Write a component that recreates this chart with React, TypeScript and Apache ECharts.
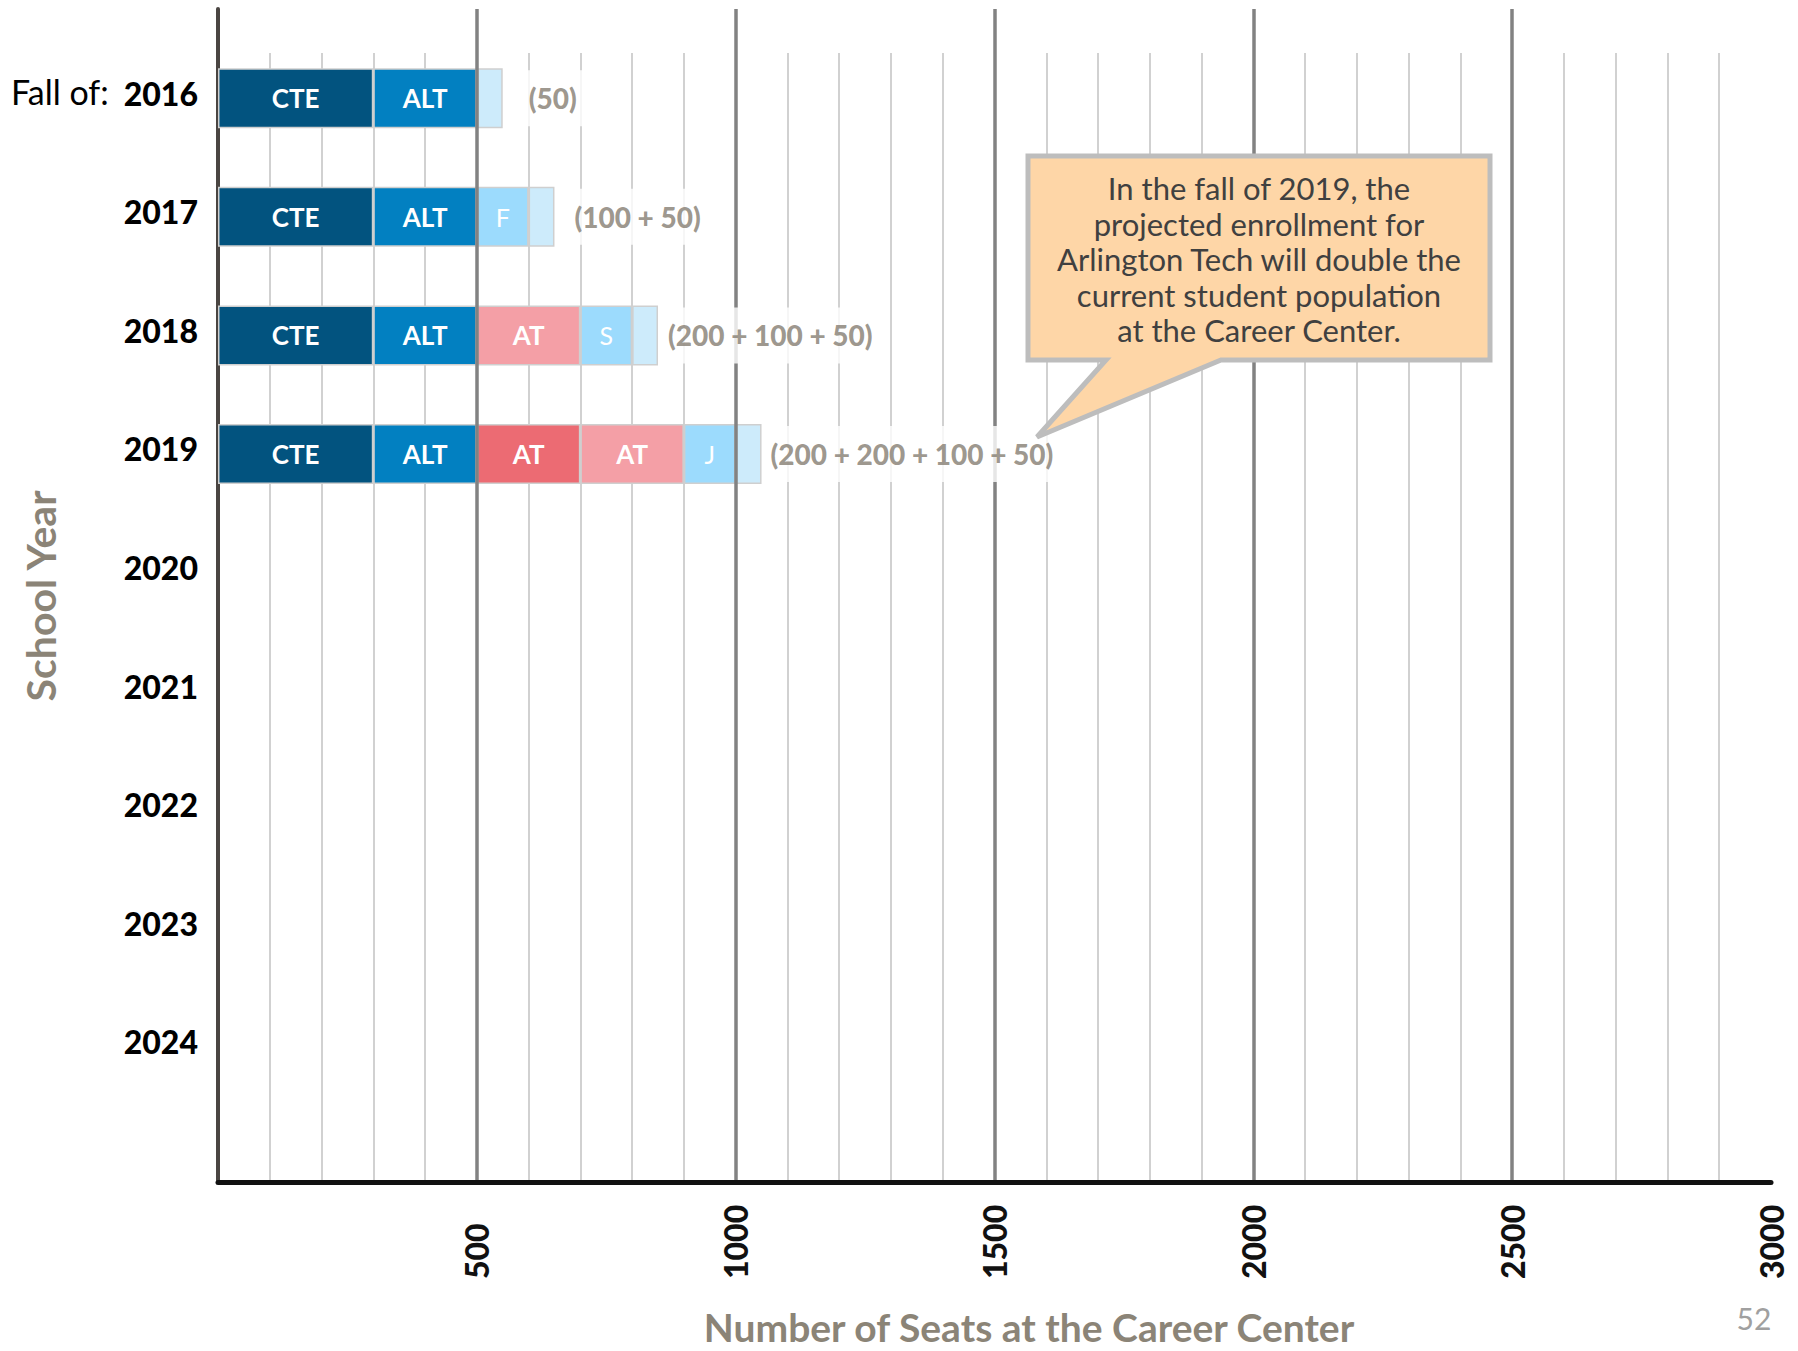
import React, { useEffect, useRef } from "react";
import * as echarts from "echarts";

const years = ["2016", "2017", "2018", "2019", "2020", "2021", "2022", "2023", "2024"];
const cteSeats = [300, 300, 300, 300];
const altSeats = [200, 200, 200, 200];
const atNewSeats = [null, null, null, 200];
const atSeats = [null, null, 200, 200];
const classSeats = [null, 100, 100, 100];
const classLabels = ["", "F", "S", "J"];
const extraSeats = [50, 50, 50, 50];
const totalLabels = ["(50)", "(100 + 50)", "(200 + 100 + 50)", "(200 + 200 + 100 + 50)"];
const xTicks = [500, 1000, 1500, 2000, 2500, 3000];
const calloutLines = [
  "In the fall of 2019, the",
  "projected enrollment for",
  "Arlington Tech will double the",
  "current student population",
  "at the Career Center.",
];
const xTitle = "Number of Seats at the Career Center";
const yTitle = "School Year";
const pageNumber = "52";

const labelGaps = [18, 12, 2, 1];

const FONT = "Lato";
const GRAYTXT = "#847c70";

export default function App() {
  const ref = useRef<HTMLDivElement>(null);
  useEffect(() => {
    if (!ref.current) return;
    const chart = echarts.init(ref.current, null, { renderer: "svg" });
    const totals = cteSeats.map(
      (_, i) =>
        (cteSeats[i] || 0) + (altSeats[i] || 0) + (atNewSeats[i] || 0) + (atSeats[i] || 0) + (classSeats[i] || 0) + (extraSeats[i] || 0)
    );
    const border = { borderColor: "#cfcfcf", borderWidth: 1.5 };
    const segLabel = (txt: any, bold = true, size = 26) => ({
      show: true,
      position: "inside",
      color: "#fff",
      fontFamily: FONT,
      fontWeight: bold ? "bold" : "normal",
      fontSize: size,
      formatter: txt,
    });
    const barBase = {
      type: "bar",
      stack: "seats",
      xAxisIndex: 0,
      yAxisIndex: 0,
      barWidth: 60,
      z: 2,
    };
    const option: any = {
      animation: false,
      backgroundColor: "#ffffff",
      grid: [
        { left: 218, right: 27, top: 39, bottom: 245 },
        { left: 218, right: 27, top: 9, bottom: 169 },
        { left: 218, right: 27, top: 53, bottom: 169 },
      ],
      xAxis: [
        { type: "value", gridIndex: 0, min: 0, max: 3000, show: false },
        {
          type: "value",
          gridIndex: 1,
          min: 0,
          max: 3000,
          interval: 500,
          z: 3,
          axisLine: { show: true, lineStyle: { color: "#111", width: 5 } },
          axisTick: { show: false },
          splitLine: { show: true, showMinLine: false, showMaxLine: false, lineStyle: { color: "#828282", width: 3.5 } },
          axisLabel: {
            show: true,
            rotate: 90,
            align: "left",
            margin: 97,
            showMinLabel: false,
            color: "#111",
            fontFamily: FONT,
            fontWeight: 900,
            fontSize: 32,
            formatter: (v: number) => (xTicks.indexOf(v) >= 0 ? String(v) : ""),
          },
        },
        {
          type: "value",
          gridIndex: 2,
          min: 0,
          max: 3000,
          interval: 100,
          z: 0,
          axisLine: { show: false },
          axisTick: { show: false },
          axisLabel: { show: false },
          splitLine: { show: true, showMinLine: false, showMaxLine: false, lineStyle: { color: "#c6c6c6", width: 1.6 } },
        },
      ],
      yAxis: [
        {
          type: "category",
          gridIndex: 0,
          data: years,
          inverse: true,
          axisLine: { show: false },
          axisTick: { show: false },
          axisLabel: {
            margin: 20,
            color: "#000",
            fontFamily: FONT,
            fontWeight: 900,
            fontSize: 32,
            lineHeight: 10,
            verticalAlign: "bottom",
          },
        },
        {
          type: "value",
          gridIndex: 1,
          min: 0,
          max: 1,
          axisLine: { show: true, lineStyle: { color: "#4a4542", width: 4 } },
          axisTick: { show: false },
          axisLabel: { show: false },
          splitLine: { show: false },
        },
        { type: "value", gridIndex: 2, min: 0, max: 1, show: false },
      ],
      series: [
        { ...barBase, name: "CTE", data: cteSeats, itemStyle: { color: "#02537f", ...border }, label: segLabel("CTE") },
        { ...barBase, name: "ALT", data: altSeats, itemStyle: { color: "#0280c1", ...border }, label: segLabel("ALT") },
        { ...barBase, name: "AT new", data: atNewSeats, itemStyle: { color: "#ec6b73", ...border }, label: segLabel("AT") },
        { ...barBase, name: "AT", data: atSeats, itemStyle: { color: "#f49fa6", ...border }, label: segLabel("AT") },
        {
          ...barBase,
          name: "Class",
          data: classSeats,
          itemStyle: { color: "#9cdbfd", ...border },
          label: segLabel((p: any) => classLabels[p.dataIndex] || "", false, 25),
        },
        { ...barBase, name: "Extra", data: extraSeats, itemStyle: { color: "#cdebfb", ...border } },
        {
          type: "scatter",
          xAxisIndex: 0,
          yAxisIndex: 0,
          symbolSize: 0,
          z: 5,
          data: totals.map((t, i) => ({
            value: [t, years[i]],
            label: { distance: labelGaps[i] },
          })),
          label: {
            show: true,
            position: "right",
            formatter: (p: any) => totalLabels[p.dataIndex],
            color: GRAYTXT,
            fontFamily: FONT,
            fontWeight: 900,
            fontSize: 28,
            backgroundColor: "#ffffff",
            padding: [14, 14, 14, 8],
          },
        },
      ],
      graphic: [
        {
          type: "text",
          left: 11,
          top: 74,
          z: 10,
          style: { text: "Fall of:", fill: "#000", font: `normal 34px ${FONT}` },
        },
        {
          type: "polygon",
          z: 20,
          shape: {
            points: [
              [1028, 156],
              [1490, 156],
              [1490, 360],
              [1221, 360],
              [1037, 437],
              [1106, 360],
              [1028, 360],
            ],
          },
          style: { fill: "#fed6a7", stroke: "#bdbdbd", lineWidth: 5 },
        },
        {
          type: "text",
          z: 21,
          x: 1259,
          y: 259,
          style: {
            text: calloutLines.join("\n"),
            fill: "#404040",
            font: `normal 31px ${FONT}`,
            lineHeight: 35.5,
            textAlign: "center",
            textVerticalAlign: "middle",
          },
        },
        {
          type: "text",
          z: 10,
          x: 1029,
          y: 1327,
          style: {
            text: xTitle,
            fill: "#8b8477",
            font: `bold 39px ${FONT}`,
            lineHeight: 36,
            textAlign: "center",
            textVerticalAlign: "middle",
          },
        },
        {
          type: "text",
          z: 10,
          x: 40,
          y: 596,
          rotation: Math.PI / 2,
          style: {
            text: yTitle,
            fill: "#8b8477",
            font: `bold 41px ${FONT}`,
            textAlign: "center",
            textVerticalAlign: "middle",
          },
        },
        {
          type: "text",
          z: 10,
          x: 1754,
          y: 1318,
          style: {
            text: pageNumber,
            fill: "#a0a0a0",
            font: `normal 30px ${FONT}`,
            textAlign: "center",
            textVerticalAlign: "middle",
          },
        },
      ],
    };
    chart.setOption(option);
    return () => chart.dispose();
  }, []);
  return (
    <div
      ref={ref}
      style={{ position: "absolute", left: 0, top: 0, width: 1798, height: 1351, background: "#fff" }}
    />
  );
}
